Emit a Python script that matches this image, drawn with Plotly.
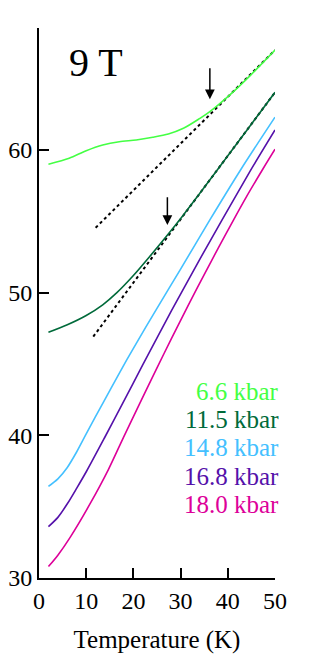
import plotly.graph_objects as go

# ---- data ----
labels = ["6.6 kbar", "11.5 kbar", "14.8 kbar", "16.8 kbar", "18.0 kbar"]
colors = ["#44ff44", "#006a3a", "#44c0ff", "#5511aa", "#dd0099"]

t_66 = [2, 6.4, 10, 13.5, 17, 20.6, 24.1, 27.4, 30.6, 34.1, 36.2, 38.3, 41.2, 45, 50]
v_66 = [59.0, 59.42, 59.95, 60.35, 60.58, 60.7, 60.89, 61.12, 61.52, 62.22, 62.69, 63.25, 64.09, 65.3, 67.0]

t_115 = [2, 6, 10, 13.5, 16.5, 20, 23.5, 27, 30.6, 38, 44, 50]
v_115 = [47.22, 47.75, 48.4, 49.15, 50.0, 51.2, 52.55, 53.95, 55.45, 58.7, 61.37, 64.04]

t_148 = [2, 4, 6, 8, 10, 13.6, 17, 20, 24.9, 30, 36.2, 42.7, 50]
v_148 = [36.42, 36.95, 37.75, 38.85, 40.1, 42.3, 44.35, 46.1, 48.85, 51.65, 55.1, 58.6, 62.3]

t_168 = [2, 4, 6, 8, 10.1, 14, 17.5, 22, 28.1, 34, 38.7, 44.7, 50]
v_168 = [33.6, 34.25, 35.2, 36.3, 37.5, 39.9, 42.1, 44.95, 48.75, 52.3, 55.05, 58.5, 61.4]

t_180 = [2, 4, 6.6, 10.8, 14.7, 17.9, 21.3, 25, 28, 31.8, 35, 38, 41.2, 44, 47.5, 50]
v_180 = [30.8, 31.6, 32.85, 35.19, 37.6, 39.86, 42.2, 44.73, 46.74, 49.23, 51.27, 53.14, 55.09, 56.75, 58.7, 60.05]

series_t = [t_66, t_115, t_148, t_168, t_180]
series_v = [v_66, v_115, v_148, v_168, v_180]

# linear high-temperature fits (dotted)
fit_66_t = [12, 50]
fit_66_v = [54.55, 67.0]
fit_115_t = [11.5, 50]
fit_115_v = [46.92, 64.04]

# arrows (T, tail value, tip value)
arrow_t = [36.2, 27.2]
arrow_tail = [65.84, 56.8]
arrow_tip = [63.55, 54.74]

x_ticks = [0, 10, 20, 30, 40, 50]
y_ticks = [30, 40, 50, 60]

FONT = "Liberation Serif, DejaVu Serif, serif"

fig = go.Figure()

for tx, vy in [(fit_66_t, fit_66_v), (fit_115_t, fit_115_v)]:
    fig.add_trace(go.Scatter(x=tx, y=vy, mode="lines",
                             line=dict(color="black", width=2, dash="dot"),
                             showlegend=False, hoverinfo="skip"))

for tx, vy, c, name in zip(series_t, series_v, colors, labels):
    fig.add_trace(go.Scatter(x=tx, y=vy, mode="lines", name=name,
                             line=dict(color=c, width=1.6, shape="spline", smoothing=0.8),
                             showlegend=False))

annotations = []
for at, a0, a1 in zip(arrow_t, arrow_tail, arrow_tip):
    annotations.append(dict(x=at, y=a1, ax=at, ay=a0, xref="x", yref="y",
                            axref="x", ayref="y", text="", showarrow=True,
                            arrowhead=2, arrowsize=1.3, arrowwidth=1.5,
                            arrowcolor="black"))

label_y = [43.1, 41.1, 39.12, 37.12, 35.16]
for name, c, ly in zip(labels, colors, label_y):
    annotations.append(dict(x=1.025, y=ly, xref="paper", yref="y", text=name,
                            showarrow=False, xanchor="right", yanchor="middle",
                            font=dict(family=FONT, size=25, color=c)))

annotations.append(dict(x=12.1, y=66.1, xref="x", yref="y", text="9 T",
                        showarrow=False, xanchor="center", yanchor="middle",
                        font=dict(family=FONT, size=40, color="black")))

# page body adds an 8 px offset; compensate in margins
fig.update_layout(
    width=306, height=647, autosize=False,
    margin=dict(l=31, r=39, t=20, b=77, autoexpand=False),
    paper_bgcolor="white", plot_bgcolor="white",
    font=dict(family=FONT, size=24, color="black"),
    annotations=annotations,
    showlegend=False,
)

fig.update_xaxes(range=[0, 50], tickvals=x_ticks, ticks="inside", ticklen=10,
                 tickwidth=1.6, tickcolor="black", showline=True, linecolor="black",
                 linewidth=2, showgrid=False, zeroline=False, automargin=False,
                 tickfont=dict(family=FONT, size=24),
                 title=dict(text="Temperature (K)", font=dict(family=FONT, size=25), standoff=18))
fig.update_yaxes(range=[30, 68.55], tickvals=y_ticks, ticks="inside", ticklen=10,
                 tickwidth=1.6, tickcolor="black", showline=True, linecolor="black",
                 linewidth=2, showgrid=False, zeroline=False, automargin=False,
                 tickfont=dict(family=FONT, size=24))

fig.write_html("out.html")
